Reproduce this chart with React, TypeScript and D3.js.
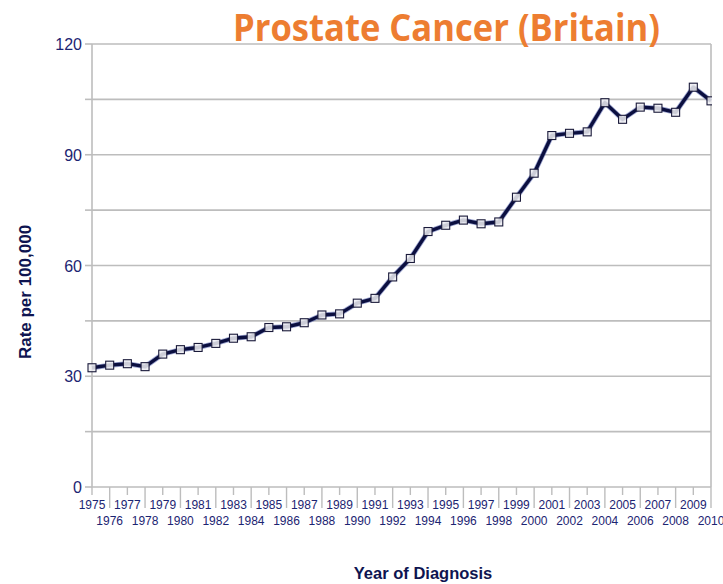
import React from "react";
import * as d3 from "d3";

const years: number[] = d3.range(1975, 2011);
const rates: number[] = [
  32.3, 33.0, 33.4, 32.6, 36.0, 37.2, 37.8, 38.9, 40.3, 40.7,
  43.2, 43.4, 44.5, 46.6, 46.9, 49.8, 51.1, 56.9, 61.9, 69.2,
  70.9, 72.3, 71.3, 71.8, 78.5, 85.0, 95.2, 95.8, 96.2, 104.1,
  99.6, 102.9, 102.6, 101.5, 108.3, 104.6,
];
const yMajorTicks: number[] = [0, 30, 60, 90, 120];
const yAllTicks: number[] = [0, 15, 30, 45, 60, 75, 90, 105, 120];

const title = "Prostate Cancer (Britain)";
const yTitle = "Rate per 100,000";
const xTitle = "Year of Diagnosis";

const W = 723;
const H = 584;
const left = 92;
const right = 711;
const top = 44;
const bottom = 487;

const navy = "#1c2472";
const grid = "#bdbdbd";

export default function App() {
  const x = d3.scaleLinear().domain([1975, 2010]).range([left, right]);
  const y = d3.scaleLinear().domain([0, 120]).range([bottom, top]);
  const pts = years.map((yr, i) => [yr, rates[i]] as [number, number]);
  const line = d3
    .line<[number, number]>()
    .x((d) => x(d[0]))
    .y((d) => y(d[1]));
  const ms = 8;

  return (
    <svg
      width={W}
      height={H}
      style={{ position: "absolute", left: 0, top: 0, background: "#fff" }}
      fontFamily="'Liberation Sans', Arial, sans-serif"
    >
      <defs>
        <clipPath id="plotclip">
          <rect x={left - 10} y={top - 20} width={right - left + 11} height={bottom - top + 30} />
        </clipPath>
      </defs>
      <rect x={0} y={0} width={W} height={H} fill="#fff" />

      {/* gridlines */}
      {yAllTicks.map((t) => (
        <line key={"g" + t} x1={left} x2={right} y1={y(t)} y2={y(t)} stroke={grid} strokeWidth={1.6} />
      ))}
      {/* y ticks */}
      {yAllTicks.map((t) => (
        <line key={"yt" + t} x1={left - 7} x2={left} y1={y(t)} y2={y(t)} stroke={grid} strokeWidth={1.6} />
      ))}
      {/* axes */}
      <line x1={left} x2={left} y1={top} y2={bottom} stroke={grid} strokeWidth={1.6} />
      <line x1={right} x2={right} y1={top} y2={bottom} stroke={grid} strokeWidth={1.6} />

      {/* x ticks */}
      {years.map((yr) => (
        <line
          key={"xt" + yr}
          x1={x(yr)}
          x2={x(yr)}
          y1={bottom}
          y2={(yr - 1975) % 2 === 0 ? bottom + 8 : bottom + 21}
          stroke={grid}
          strokeWidth={1.4}
        />
      ))}

      {/* y labels */}
      {yMajorTicks.map((t) => (
        <text key={"yl" + t} x={left - 10} y={y(t) + 6} textAnchor="end" fontSize={16} fill={navy}>
          {t}
        </text>
      ))}

      {/* x labels */}
      {years.map((yr) => (
        <text
          key={"xl" + yr}
          x={x(yr)}
          y={(yr - 1975) % 2 === 0 ? 509 : 525}
          textAnchor="middle"
          fontSize={12}
          fill={navy}
        >
          {yr}
        </text>
      ))}

      {/* series */}
      <g clipPath="url(#plotclip)">
        <path d={line(pts) || ""} fill="none" stroke="#3a4aa0" strokeOpacity={0.5} strokeWidth={5} strokeLinejoin="round" />
        <path d={line(pts) || ""} fill="none" stroke="#0b0f40" strokeWidth={3.4} strokeLinejoin="round" />
        {pts.map((d) => (
          <rect
            key={"m" + d[0]}
            x={x(d[0]) - ms / 2}
            y={y(d[1]) - ms / 2}
            width={ms}
            height={ms}
            fill="#eeeef2"
            fillOpacity={0.85}
            stroke="#1a1a3a"
            strokeWidth={1.1}
          />
        ))}
      </g>

      {/* titles */}
      <text
        x={233}
        y={41}
        fontFamily="'Open Sans', sans-serif"
        fontWeight={700}
        fontSize={37}
        fill="#ed7d31"
        textLength={427}
        lengthAdjust="spacingAndGlyphs"
      >
        {title}
      </text>
      <text
        transform={`translate(31,${292}) rotate(-90)`}
        textAnchor="middle"
        fontWeight={700}
        fontSize={17}
        fill="#0e1450"
      >
        {yTitle}
      </text>
      <text x={423} y={579} textAnchor="middle" fontWeight={700} fontSize={16.5} fill="#0e1450">
        {xTitle}
      </text>
    </svg>
  );
}
